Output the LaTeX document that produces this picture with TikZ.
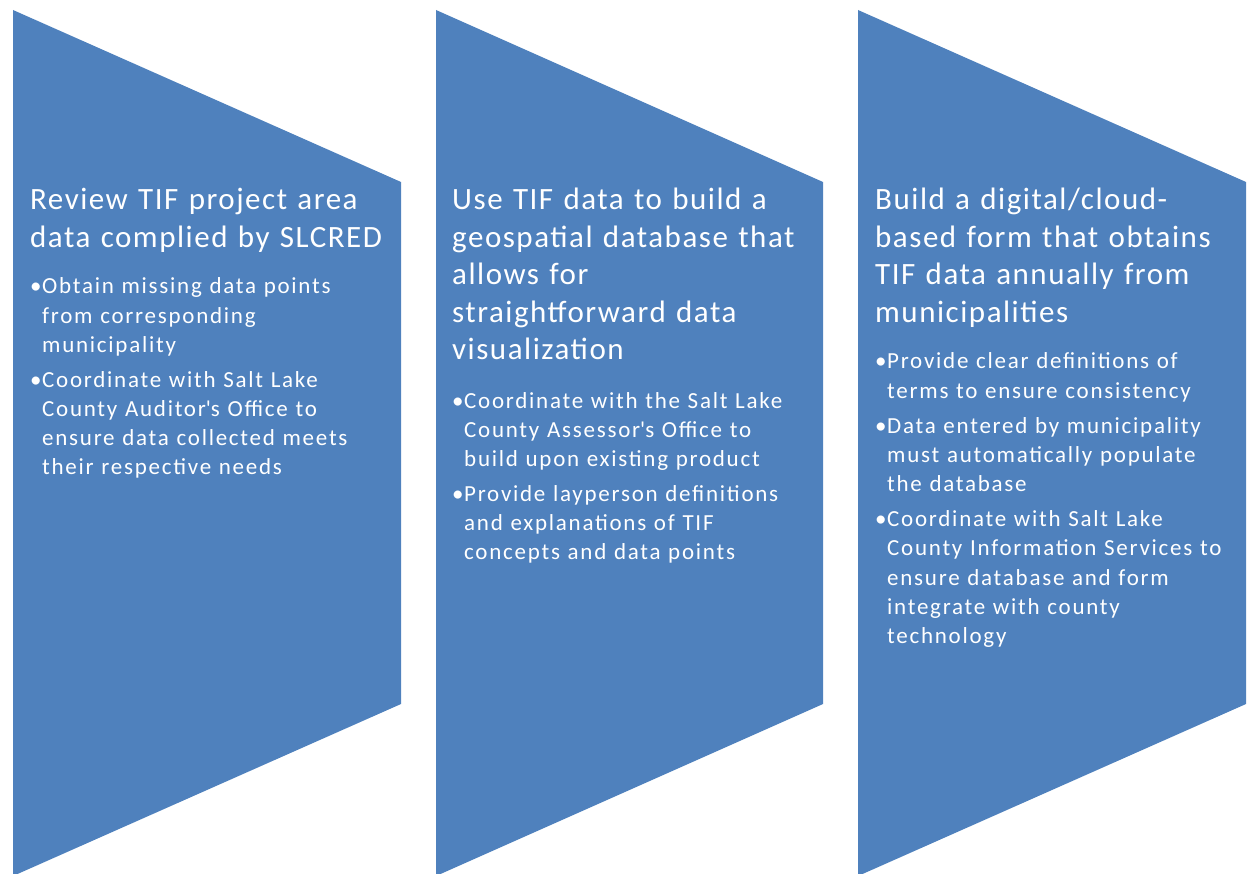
\documentclass[tikz,border=0pt]{standalone}
\usepackage{fontspec}
\setmainfont{Carlito}
\newfontfamily\headfont[LetterSpace=4.9]{Carlito}
\newfontfamily\itemfont[LetterSpace=7.6]{Carlito}
\usetikzlibrary{positioning}
\definecolor{chevblue}{RGB}{79,129,189}
\tikzstyle{chevron} = [fill=chevblue, draw=none]
\tikzstyle{heading} = [anchor=base west,
inner sep=0pt,
text=white,
text width=400pt,
align=left,
font=\headfont\fontsize{31}{37.5}\selectfont]
\tikzstyle{bullets} = [anchor=base west,
inner sep=0pt,
text=white,
text width=400pt,
font=\itemfont\fontsize{23}{29.2}\selectfont\raggedright\setlength{\parskip}{5.8pt}]
\newcommand{\tifitem}[1]{{\let\\\newline\hangindent=12pt\hangafter=1\noindent\makebox[12pt][l]{\textbullet}#1\par}}

\begin{document}
\begin{tikzpicture}[x=1pt, y=-1pt]

    \useasboundingbox (0,0) rectangle (1247,874);

    % chevrons
    \path[chevron] (13,10) -- (401,182) -- (401,704) -- (13,876) -- cycle;
    \path[chevron] (436,10) -- (823,182) -- (823,704) -- (436,876) -- cycle;
    \path[chevron] (858,10) -- (1246,182) -- (1246,704) -- (858,876) -- cycle;

    % first step
    \node (head1) [heading] at (30,210) {Review TIF project area\\data complied by SLCRED};
    \node (list1) [bullets] at (30,294) {%
        \tifitem{Obtain missing data points\\from corresponding\\municipality}%
        \tifitem{Coordinate with Salt Lake\\County Auditor\textquotesingle s Office to\\ensure data collected meets\\their respective needs}};

    % second step
    \node (head2) [heading] at (452,210) {Use TIF data to build a\\geospatial database that\\allows for\\straightforward data\\visualization};
    \node (list2) [bullets] at (452,408) {%
        \tifitem{Coordinate with the Salt Lake\\County Assessor\textquotesingle s Office to\\build upon existing product}%
        \tifitem{Provide layperson definitions\\and explanations of TIF\\concepts and data points}};

    % third step
    \node (head3) [heading] at (875,210) {Build a digital/cloud-\\based form that obtains\\TIF data annually from\\municipalities};
    \node (list3) [bullets] at (875,369) {%
        \tifitem{Provide clear definitions of\\terms to ensure consistency}%
        \tifitem{Data entered by municipality\\must automatically populate\\the database}%
        \tifitem{Coordinate with Salt Lake\\County Information Services to\\ensure database and form\\integrate with county\\technology}};

\end{tikzpicture}
\end{document}
